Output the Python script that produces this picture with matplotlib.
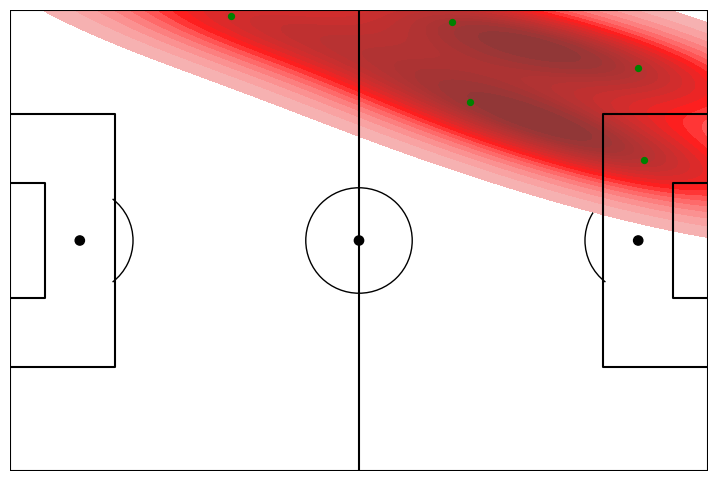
import matplotlib
matplotlib.use("Agg")
import matplotlib.pyplot as plt
from matplotlib.patches import Arc, Circle
from matplotlib.colors import LinearSegmentedColormap
import seaborn as sns

# event locations (pitch 120 x 80, y measured from top)
event_x = [38, 76, 108, 79, 109]
event_y = [1, 2, 10, 16, 26]

heat_colors = [(0.0, "#f5b9b9"), (0.14, "#f9a0a0"), (0.28, "#fc8282"),
               (0.42, "#ff5a5a"), (0.55, "#ff1e1e"), (0.66, "#de2a2a"),
               (0.78, "#c23030"), (0.9, "#a83434"), (1.0, "#8c3838")]


def draw_pitch(ax):
    lw = 1.5
    # outline and halfway line
    ax.plot([0, 0, 120, 120, 0], [0, 80, 80, 0, 0], color="black", lw=lw)
    ax.plot([60, 60], [0, 80], color="black", lw=lw)
    # penalty areas
    ax.plot([0, 18, 18, 0], [18, 18, 62, 62], color="black", lw=lw)
    ax.plot([120, 102, 102, 120], [18, 18, 62, 62], color="black", lw=lw)
    # six yard boxes
    ax.plot([0, 6, 6, 0], [30, 30, 50, 50], color="black", lw=lw)
    ax.plot([120, 114, 114, 120], [30, 30, 50, 50], color="black", lw=lw)
    # circles and spots
    ax.add_patch(Circle((60, 40), 9.15, color="black", fill=False, lw=1))
    ax.add_patch(Circle((60, 40), 0.8, color="black"))
    ax.add_patch(Circle((12, 40), 0.8, color="black"))
    ax.add_patch(Circle((108, 40), 0.8, color="black"))
    ax.add_patch(Arc((12, 40), 18.3, 18.3, theta1=308, theta2=52, color="black", lw=1))
    ax.add_patch(Arc((108, 40), 18.3, 18.3, theta1=128, theta2=232, color="black", lw=1))


fig = plt.figure(figsize=(7.17, 4.82), dpi=100)
ax = fig.add_axes([10 / 717, 11 / 482, 698 / 717, 461 / 482])
draw_pitch(ax)

cmap = LinearSegmentedColormap.from_list("heat", heat_colors)
sns.kdeplot(x=event_x, y=event_y, fill=True, levels=20, thresh=0.05,
            cmap=cmap, gridsize=200, ax=ax)
ax.scatter(event_x, event_y, color="green", s=18, zorder=3)

ax.set_xlim(0, 120)
ax.set_ylim(80, 0)
ax.axis("off")

fig.savefig("out.png", dpi=100)
